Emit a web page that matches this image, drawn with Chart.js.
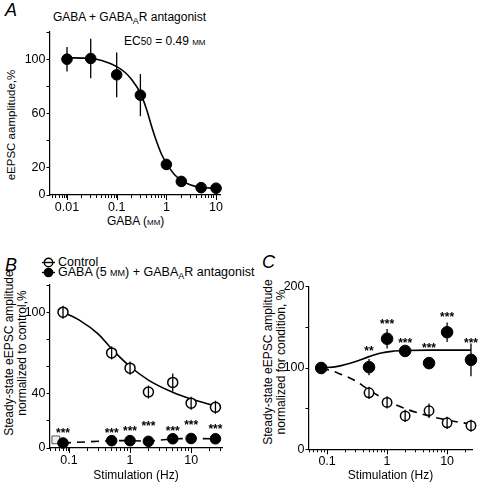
<!DOCTYPE html>
<html>
<head>
<meta charset="utf-8">
<script src="https://cdn.jsdelivr.net/npm/chart.js@4/dist/chart.umd.min.js"></script>
<style>
  body { margin: 0; background: #fff; width: 480px; height: 483px; position: relative; overflow: hidden;
         font-family: "Liberation Sans", Arial, sans-serif; color: #000; }
  .panel { position: absolute; }
  canvas { display: block; }
  .letter { position: absolute; font-style: italic; font-size: 18px; line-height: 1; }
  .txt { position: absolute; font-size: 12.5px; line-height: 1; white-space: nowrap; }
  .ytitle { position: absolute; transform: rotate(-90deg); text-align: center; font-size: 12px; line-height: 13px; white-space: nowrap; }
  .sub { font-size: 9px; position: relative; top: 3px; }
  .sc { font-variant: all-small-caps; }
</style>
</head>
<body>

<div class="letter" style="left:5px;top:1px">A</div>
<div class="txt" style="left:53px;top:11px;font-size:12px">GABA + GABA<span class="sub">A</span>R antagonist</div>
<div class="txt" style="left:124px;top:35px;font-size:12px">EC<span style="font-size:10px">50</span> = 0.49 <span class="sc">mM</span></div>
<div class="ytitle" style="left:-53px;top:118px;width:130px;height:14px;font-size:11.5px">eEPSC aamplitude,%</div>
<div class="txt" style="left:107px;top:215px;font-size:12px">GABA (<span class="sc">mM</span>)</div>
<div class="panel" style="left:0;top:0"><canvas id="chartA" width="235" height="212"></canvas></div>

<div class="letter" style="left:5px;top:256px">B</div>
<svg style="position:absolute;left:40px;top:256px" width="18" height="22">
  <circle cx="8.5" cy="6.5" r="4.2" fill="#fff" stroke="#000" stroke-width="1.4"/>
  <line x1="2" y1="6.5" x2="15" y2="6.5" stroke="#000" stroke-width="1.4"/>
  <line x1="2" y1="16.5" x2="15" y2="16.5" stroke="#000" stroke-width="1.4"/>
  <circle cx="8.5" cy="16.5" r="4.8" fill="#000"/>
</svg>
<div class="txt" style="left:58px;top:256px">Control</div>
<div class="txt" style="left:58px;top:266px">GABA (5 <span class="sc">mM</span>) + GABA<span class="sub">A</span>R antagonist</div>
<div class="ytitle" style="left:-79px;top:340px;width:190px;height:26px">Steady-state eEPSC amplitude<br>normalized to control,%</div>
<div class="panel" style="left:0;top:250px"><canvas id="chartB" width="240" height="233"></canvas></div>

<div class="letter" style="left:262px;top:253px">C</div>
<div class="ytitle" style="left:180px;top:349px;width:190px;height:26px">Steady-state eEPSC amplitude<br>normalized for condition, %</div>
<div class="panel" style="left:260px;top:250px"><canvas id="chartC" width="220" height="233"></canvas></div>

<script>
// ---- panel A: concentration-response ----
const gabaConc = [0.01, 0.03, 0.1, 0.3, 1, 2, 5, 10];
const gabaAmp = [100, 100.5, 88.5, 73.5, 22.5, 10, 5.4, 5];
const gabaErr = [9, 14.5, 16.5, 15.5, 3.8, 3, 1, 0.5];
const fitAX = [0.01, 0.03, 0.05, 0.1, 0.15, 0.2, 0.3, 0.4, 0.5, 0.6, 0.8, 1, 1.5, 2, 3, 5, 10];
const fitAY = [101, 100.5, 99, 94.5, 90, 85, 75, 63, 51, 42, 30, 23.5, 14.5, 11, 7.5, 5.5, 5];
const ticksAX = [0.01, 0.1, 1, 10];
const labelsAX = ['0.01', '0.1', '1', '10'];
const labelsAY = [0, 20, 60, 100];

// ---- panel B: frequency dependence, normalized to control ----
const freq = [0.08, 0.5, 1, 2, 5, 10, 25];
const ctrlB = [100, 70, 58.8, 41.2, 48.3, 33, 30];
const ctrlBErr = [4.8, 4.8, 4.8, 4.8, 6.5, 4.8, 4.8];
const gabaB = [3.7, 5.4, 5.4, 4.9, 6.8, 7, 6.8];
const fitBX = [0.08, 0.15, 0.3, 0.5, 1, 2, 5, 10, 25];
const fitBY = [100, 94, 84, 73, 60, 50, 41, 36, 31];
const starsBY = [13.5, 13.5, 14.7, 18.4, 14.7, 18.8, 16.4];
const starsB = ['***', '***', '***', '***', '***', '***', '***'];
const squareB = [{ x: 0.061, y: 6 }];
const labelsBY = [0, 40, 100];

// ---- panel C: normalized for condition ----
const condC = [100, 101, 136, 121, 106, 144, 110];
const condCErr = [2, 10, 12, 7, 6, 12, 20];
const ctrlC = [100, 69.5, 57.7, 41, 47.4, 32.6, 29];
const ctrlCErr = [7, 7.5, 7.5, 7.5, 9, 7.5, 7.5];
const fitCX = [0.08, 0.15, 0.3, 0.5, 0.8, 1.2, 2, 5, 25];
const fitCY = [100, 102, 108, 114, 118.5, 120.5, 121.5, 122, 122];
const starsCX = [0.5, 1, 2, 5, 10, 25];
const starsCY = [124, 158, 134, 128, 167, 134];
const starsC = ['**', '***', '***', '***', '***', '***'];
const labelsCY = [0, 100, 200];
const ticksBX = [0.1, 1, 10];
const labelsBX = ['0.1', '1', '10'];

Chart.defaults.font.family = '"Liberation Sans", Arial, sans-serif';
Chart.defaults.font.size = 12.5;
Chart.defaults.color = '#000';
Chart.defaults.animation = false;

const pts = (xs, ys) => xs.map((x, i) => ({ x, y: ys[i] }));

// log axis ticks 1..9 x each decade
function logTicks(min, max) {
  const out = [];
  [0.001, 0.01, 0.1, 1, 10].forEach(d => {
    for (let m = 1; m <= 9; m++) {
      const v = m === 1 ? d : +(m * d).toPrecision(6);
      if (v >= min && v <= max) out.push(v);
    }
  });
  return out;
}

function xAxis(min, max, majors, labels, h, pad) {
  return {
    type: 'logarithmic', min, max,
    afterBuildTicks: s => { s.ticks = logTicks(min, max).map(v => ({ value: v })); },
    afterFit: s => { s.height = h; },
    ticks: {
      autoSkip: false, maxRotation: 0, padding: pad, font: { size: 12.5 },
      callback: v => { const k = majors.indexOf(v); return k < 0 ? '' : labels[k]; }
    },
    grid: { drawOnChartArea: false, tickLength: 3, tickColor: '#000', tickWidth: 1 },
    border: { color: '#000', width: 1.2 }
  };
}

function yAxis(max, step, shown, w) {
  return {
    min: 0, max,
    afterFit: s => { s.width = w; },
    ticks: { stepSize: step, padding: 1, font: { size: 12.5 },
      callback: v => shown.includes(v) ? String(v) : '' },
    grid: { drawOnChartArea: false, tickLength: 3.5, tickColor: '#000', tickWidth: 1 },
    border: { color: '#000', width: 1.2 }
  };
}

// error bars, asterisks and longer decade ticks
function extras(majors, stars) {
  return {
    id: 'extras',
    afterDatasetsDraw(chart) {
      const { ctx, scales: { x, y }, chartArea } = chart;
      ctx.save();
      ctx.strokeStyle = '#000';
      ctx.lineWidth = 1.3;
      chart.data.datasets.forEach(ds => {
        if (!ds.errors) return;
        ds.data.forEach((p, i) => {
          const e = ds.errors[i];
          if (!e) return;
          const px = x.getPixelForValue(p.x);
          ctx.beginPath();
          ctx.moveTo(px, y.getPixelForValue(p.y + e));
          ctx.lineTo(px, y.getPixelForValue(p.y - e));
          ctx.stroke();
        });
      });
      ctx.lineWidth = 1;
      majors.forEach(v => {
        const px = Math.round(x.getPixelForValue(v)) + 0.5;
        ctx.beginPath();
        ctx.moveTo(px, chartArea.bottom);
        ctx.lineTo(px, chartArea.bottom + 5);
        ctx.stroke();
      });
      if (stars) {
        ctx.fillStyle = '#000';
        ctx.font = 'bold 12px "Liberation Sans", Arial, sans-serif';
        ctx.textAlign = 'center';
        ctx.textBaseline = 'alphabetic';
        stars.x.forEach((v, i) => {
          ctx.fillText(stars.text[i], x.getPixelForValue(v), y.getPixelForValue(stars.y[i]) + 7);
        });
      }
      ctx.restore();
    }
  };
}

const common = {
  responsive: false,
  plugins: { legend: { display: false }, tooltip: { enabled: false } }
};

function fitLine(data, dash, order) {
  return { type: 'line', data, borderColor: '#000', borderWidth: 1.6, borderDash: dash || [],
           pointRadius: 0, fill: false, cubicInterpolationMode: 'monotone', order, clip: false };
}
function dots(data, filled, r, errors, order) {
  return { type: 'scatter', data, errors, order, clip: false,
           pointRadius: r, pointBorderWidth: filled ? 1 : 1.5,
           pointBackgroundColor: filled ? '#000' : '#fff', pointBorderColor: '#000' };
}

// panel A
new Chart(document.getElementById('chartA'), {
  type: 'scatter',
  data: { datasets: [
    fitLine(pts(fitAX, fitAY), null, 3),
    dots(pts(gabaConc, gabaAmp), true, 5.3, gabaErr, 1)
  ] },
  options: { ...common,
    layout: { padding: { top: 32, right: 15, left: 0, bottom: 0 } },
    scales: { x: xAxis(0.00455, 12, ticksAX, labelsAX, 17, 2), y: yAxis(120, 20, labelsAY, 50) } },
  plugins: [extras(ticksAX, null)]
});

// panel B
new Chart(document.getElementById('chartB'), {
  type: 'scatter',
  data: { datasets: [
    fitLine(pts(fitBX, fitBY), null, 4),
    { ...fitLine(pts(freq, gabaB), [8, 6], 4), cubicInterpolationMode: 'default', tension: 0 },
    { type: 'scatter', data: squareB, order: 3, pointStyle: 'rect', pointRadius: 5.5,
      pointBackgroundColor: '#eee', pointBorderColor: '#555', pointBorderWidth: 1, clip: false },
    dots(pts(freq, ctrlB), false, 5, ctrlBErr, 2),
    dots(pts(freq, gabaB), true, 5.3, null, 1)
  ] },
  options: { ...common,
    layout: { padding: { top: 35, right: 18, left: 0, bottom: 0 } },
    scales: {
      x: { ...xAxis(0.049, 32, ticksBX, labelsBX, 35, 2), title: { display: true, text: 'Stimulation (Hz)', font: { size: 12 }, padding: { top: 0, bottom: 0 } } },
      y: yAxis(120, 20, labelsBY, 50)
    } },
  plugins: [extras(ticksBX, { x: freq, y: starsBY, text: starsB })]
});

// panel C
new Chart(document.getElementById('chartC'), {
  type: 'scatter',
  data: { datasets: [
    fitLine(pts(fitCX, fitCY), null, 4),
    fitLine(pts(fitBX, fitBY), [8, 6], 4),
    dots(pts(freq, ctrlC), false, 4.7, ctrlCErr, 2),
    dots(pts(freq, condC), true, 5.8, condCErr, 1)
  ] },
  options: { ...common,
    layout: { padding: { top: 36.7, right: 8, left: 0, bottom: 0 } },
    scales: {
      x: { ...xAxis(0.05, 26, ticksBX, labelsBX, 33.7, 2), title: { display: true, text: 'Stimulation (Hz)', font: { size: 12 }, padding: { top: 0, bottom: 0 } } },
      y: yAxis(200, 50, labelsCY, 49)
    } },
  plugins: [extras(ticksBX, { x: starsCX, y: starsCY, text: starsC })]
});
</script>
</body>
</html>
